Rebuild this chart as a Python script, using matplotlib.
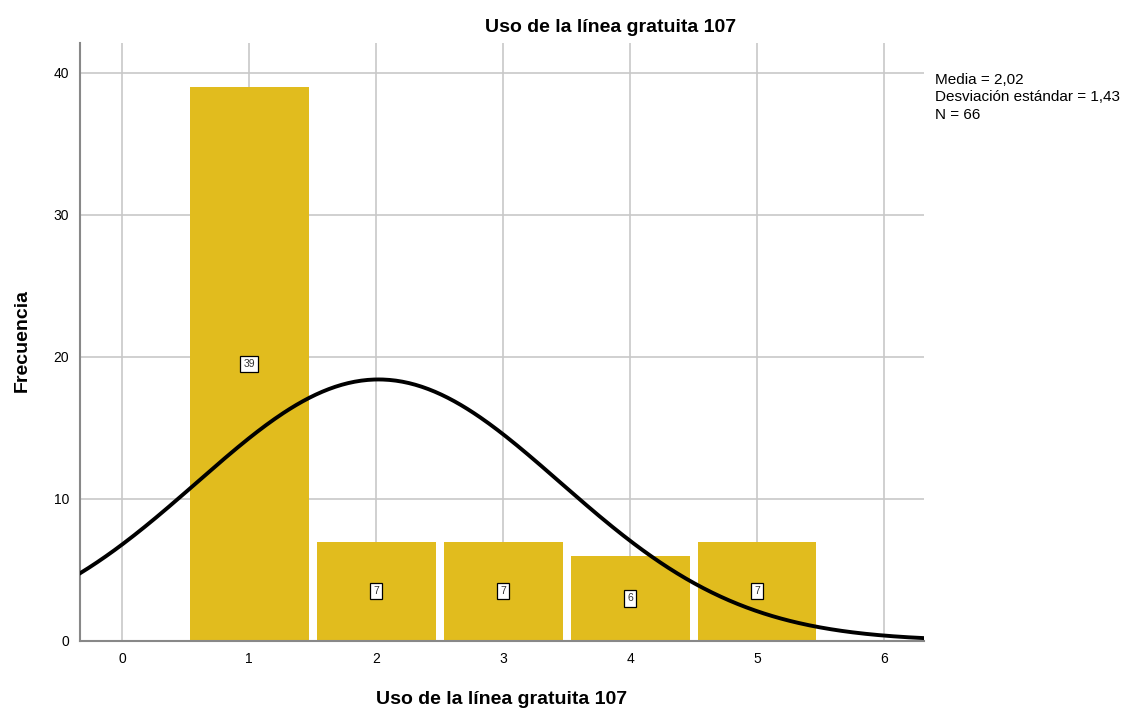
import numpy as np
import matplotlib.pyplot as plt

plt.rcParams['font.family'] = ['Liberation Sans', 'DejaVu Sans']

# datos del histograma
categorias = [1, 2, 3, 4, 5]
frecuencias = [39, 7, 7, 6, 7]
media = 2.02
desv = 1.43
n = 66
x_ticks = [0, 1, 2, 3, 4, 5, 6]
y_ticks = [0, 10, 20, 30, 40]

fig = plt.figure(figsize=(11.34, 7.13), dpi=100)
ax = fig.add_axes([80 / 1134, 72 / 713, 844 / 1134, 598 / 713])

ax.set_axisbelow(True)
ax.grid(True, color='#c8c8c8', linewidth=1.2)

ax.bar(categorias, frecuencias, width=0.937, color='#e1bc1e',
       linewidth=0, zorder=2)

# etiquetas dentro de las barras
for c, f in zip(categorias, frecuencias):
    ax.text(c, f / 2, str(f), ha='center', va='center', fontsize=7.5,
            color='#333333', zorder=4,
            bbox=dict(boxstyle='square,pad=0.3', fc='white', ec='black', lw=0.9))

# curva normal
xs = np.linspace(-0.4, 6.4, 400)
ys = n * np.exp(-0.5 * ((xs - media) / desv) ** 2) / (desv * np.sqrt(2 * np.pi))
ax.plot(xs, ys, color='black', linewidth=2.8, zorder=3)

ax.set_xlim(-0.331, 6.315)
ax.set_ylim(0, 42.1)
ax.set_xticks(x_ticks)
ax.set_yticks(y_ticks)
ax.tick_params(length=0, labelsize=10, pad=8)

for s in ['top', 'right']:
    ax.spines[s].set_visible(False)
for s in ['left', 'bottom']:
    ax.spines[s].set_color('#888888')
    ax.spines[s].set_linewidth(1.5)

fig.text(611 / 1134, 1 - 28 / 713, 'Uso de la línea gratuita 107', ha='center',
         va='center', fontsize=14, fontweight='bold')
fig.text(502 / 1134, 1 - 700 / 713, 'Uso de la línea gratuita 107', ha='center',
         va='center', fontsize=14, fontweight='bold')
fig.text(22 / 1134, 1 - 340 / 713, 'Frecuencia', ha='center', va='center',
         fontsize=14, fontweight='bold', rotation=90)

texto = 'Media = {}\nDesviación estándar = {}\nN = {}'.format(
    f'{media:.2f}'.replace('.', ','), f'{desv:.2f}'.replace('.', ','), n)
fig.text(935 / 1134, 1 - 73 / 713, texto, ha='left', va='top',
         fontsize=11, linespacing=1.3)

fig.savefig('out.png', dpi=100)
